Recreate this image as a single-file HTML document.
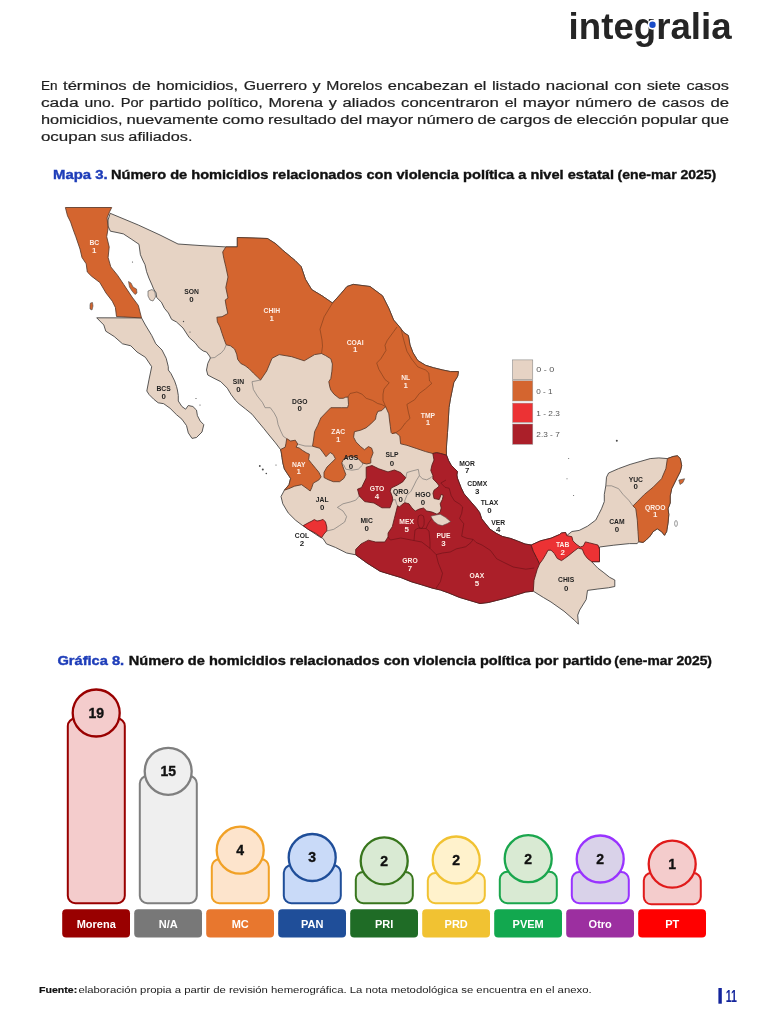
<!DOCTYPE html>
<html lang="es"><head><meta charset="utf-8"><title>Integralia</title>
<style>
html,body{margin:0;padding:0;background:#fff;}
body{width:768px;height:1024px;position:relative;overflow:hidden;}
svg{position:absolute;left:0;top:0;display:block;will-change:transform;}
text{font-family:"Liberation Sans",Arial,sans-serif;}
.p{font-size:13.7px;fill:#1f1f1f;stroke:#1f1f1f;stroke-width:0.22px;}
.tb{font-size:13.5px;font-weight:bold;fill:#1e3db9;stroke:#1e3db9;stroke-width:0.4px;}
.tk{font-size:13.5px;font-weight:bold;fill:#111;stroke:#111;stroke-width:0.4px;}
.tk2{font-size:12.2px;font-weight:bold;fill:#111;stroke:#111;stroke-width:0.35px;}
.fb{font-size:9.6px;font-weight:bold;fill:#111;stroke:#111;stroke-width:0.2px;}
.fr{font-size:9.6px;fill:#222;}
.pg{font-size:16.4px;font-weight:bold;fill:#14259c;}
.logo{font-size:37.5px;font-weight:bold;fill:#252525;}
.lg{font-size:7.4px;fill:#555;}
.ml{font-size:7.9px;font-weight:bold;fill:#1e1e1e;text-anchor:middle;}
.ml.w{fill:#fdeee6;}
.num{font-size:14px;font-weight:bold;fill:#111;stroke:#111;stroke-width:0.35px;text-anchor:middle;}
.lbl{font-size:11px;font-weight:bold;fill:#fff;text-anchor:middle;}
</style></head><body>
<svg width="768" height="1024" viewBox="0 0 768 1024">
<text x="40.90" y="90.2" textLength="16.55" lengthAdjust="spacingAndGlyphs" class="p">En</text>
<text x="63.02" y="90.2" textLength="63.64" lengthAdjust="spacingAndGlyphs" class="p">términos</text>
<text x="132.24" y="90.2" textLength="18.60" lengthAdjust="spacingAndGlyphs" class="p">de</text>
<text x="156.41" y="90.2" textLength="81.67" lengthAdjust="spacingAndGlyphs" class="p">homicidios,</text>
<text x="243.66" y="90.2" textLength="63.38" lengthAdjust="spacingAndGlyphs" class="p">Guerrero</text>
<text x="312.61" y="90.2" textLength="8.08" lengthAdjust="spacingAndGlyphs" class="p">y</text>
<text x="326.27" y="90.2" textLength="55.99" lengthAdjust="spacingAndGlyphs" class="p">Morelos</text>
<text x="387.84" y="90.2" textLength="80.50" lengthAdjust="spacingAndGlyphs" class="p">encabezan</text>
<text x="473.92" y="90.2" textLength="12.43" lengthAdjust="spacingAndGlyphs" class="p">el</text>
<text x="491.92" y="90.2" textLength="48.36" lengthAdjust="spacingAndGlyphs" class="p">listado</text>
<text x="545.86" y="90.2" textLength="62.73" lengthAdjust="spacingAndGlyphs" class="p">nacional</text>
<text x="614.16" y="90.2" textLength="27.08" lengthAdjust="spacingAndGlyphs" class="p">con</text>
<text x="646.81" y="90.2" textLength="34.04" lengthAdjust="spacingAndGlyphs" class="p">siete</text>
<text x="686.42" y="90.2" textLength="42.58" lengthAdjust="spacingAndGlyphs" class="p">casos</text>
<text x="40.90" y="107.1" textLength="37.81" lengthAdjust="spacingAndGlyphs" class="p">cada</text>
<text x="84.41" y="107.1" textLength="30.57" lengthAdjust="spacingAndGlyphs" class="p">uno.</text>
<text x="120.67" y="107.1" textLength="22.85" lengthAdjust="spacingAndGlyphs" class="p">Por</text>
<text x="149.20" y="107.1" textLength="52.39" lengthAdjust="spacingAndGlyphs" class="p">partido</text>
<text x="207.29" y="107.1" textLength="55.44" lengthAdjust="spacingAndGlyphs" class="p">político,</text>
<text x="268.42" y="107.1" textLength="54.67" lengthAdjust="spacingAndGlyphs" class="p">Morena</text>
<text x="328.79" y="107.1" textLength="8.08" lengthAdjust="spacingAndGlyphs" class="p">y</text>
<text x="342.56" y="107.1" textLength="52.84" lengthAdjust="spacingAndGlyphs" class="p">aliados</text>
<text x="401.09" y="107.1" textLength="97.87" lengthAdjust="spacingAndGlyphs" class="p">concentraron</text>
<text x="504.65" y="107.1" textLength="12.43" lengthAdjust="spacingAndGlyphs" class="p">el</text>
<text x="522.77" y="107.1" textLength="47.10" lengthAdjust="spacingAndGlyphs" class="p">mayor</text>
<text x="575.56" y="107.1" textLength="56.58" lengthAdjust="spacingAndGlyphs" class="p">número</text>
<text x="637.84" y="107.1" textLength="18.60" lengthAdjust="spacingAndGlyphs" class="p">de</text>
<text x="662.13" y="107.1" textLength="42.58" lengthAdjust="spacingAndGlyphs" class="p">casos</text>
<text x="710.40" y="107.1" textLength="18.60" lengthAdjust="spacingAndGlyphs" class="p">de</text>
<text x="40.90" y="124.0" textLength="81.67" lengthAdjust="spacingAndGlyphs" class="p">homicidios,</text>
<text x="126.43" y="124.0" textLength="92.00" lengthAdjust="spacingAndGlyphs" class="p">nuevamente</text>
<text x="222.30" y="124.0" textLength="41.86" lengthAdjust="spacingAndGlyphs" class="p">como</text>
<text x="268.02" y="124.0" textLength="68.26" lengthAdjust="spacingAndGlyphs" class="p">resultado</text>
<text x="340.15" y="124.0" textLength="22.13" lengthAdjust="spacingAndGlyphs" class="p">del</text>
<text x="366.15" y="124.0" textLength="47.10" lengthAdjust="spacingAndGlyphs" class="p">mayor</text>
<text x="417.11" y="124.0" textLength="56.58" lengthAdjust="spacingAndGlyphs" class="p">número</text>
<text x="477.56" y="124.0" textLength="18.60" lengthAdjust="spacingAndGlyphs" class="p">de</text>
<text x="500.02" y="124.0" textLength="50.14" lengthAdjust="spacingAndGlyphs" class="p">cargos</text>
<text x="554.03" y="124.0" textLength="18.60" lengthAdjust="spacingAndGlyphs" class="p">de</text>
<text x="576.49" y="124.0" textLength="60.64" lengthAdjust="spacingAndGlyphs" class="p">elección</text>
<text x="641.00" y="124.0" textLength="56.35" lengthAdjust="spacingAndGlyphs" class="p">popular</text>
<text x="701.22" y="124.0" textLength="27.78" lengthAdjust="spacingAndGlyphs" class="p">que</text>
<text x="40.90" y="140.9" textLength="55.66" lengthAdjust="spacingAndGlyphs" class="p">ocupan</text>
<text x="100.40" y="140.9" textLength="24.17" lengthAdjust="spacingAndGlyphs" class="p">sus</text>
<text x="128.39" y="140.9" textLength="64.10" lengthAdjust="spacingAndGlyphs" class="p">afiliados.</text>
<text x="53.00" y="179.2" textLength="54.73" lengthAdjust="spacingAndGlyphs" class="tb">Mapa 3.</text>
<text x="110.93" y="179.2" textLength="503.06" lengthAdjust="spacingAndGlyphs" class="tk">Número de homicidios relacionados con violencia política a nivel estatal</text>
<text x="617.49" y="179.2" textLength="98.80" lengthAdjust="spacingAndGlyphs" class="tk2">(ene-mar 2025)</text>
<text x="57.40" y="665.4" textLength="66.82" lengthAdjust="spacingAndGlyphs" class="tb">Gráfica 8.</text>
<text x="128.82" y="665.4" textLength="482.96" lengthAdjust="spacingAndGlyphs" class="tk">Número de homicidios relacionados con violencia política por partido</text>
<text x="614.38" y="665.4" textLength="97.60" lengthAdjust="spacingAndGlyphs" class="tk2">(ene-mar 2025)</text>
<text x="39.0" y="992.6" textLength="38.17" lengthAdjust="spacingAndGlyphs" class="fb">Fuente:</text>
<text x="78.4" y="992.6" textLength="513.20" lengthAdjust="spacingAndGlyphs" class="fr">elaboración propia a partir de revisión hemerográfica. La nota metodológica se encuentra en el anexo.</text>
<rect x="718.4" y="988" width="3.4" height="15.7" fill="#14259c"/>
<text x="725.8" y="1001.9" textLength="11.2" lengthAdjust="spacingAndGlyphs" class="pg">11</text>
<text x="568.6" y="38.6" textLength="163" lengthAdjust="spacingAndGlyphs" class="logo">integralia</text>
<circle cx="652.6" cy="24.8" r="5.0" fill="#fff"/>
<circle cx="652.5" cy="24.8" r="3.2" fill="#1a4cc8"/>
<g class="map" stroke-linejoin="round">
<polygon points="110.2,213.3 138.3,225.0 160.0,235.0 178.0,244.0 200.0,245.5 225.8,246.9 237.3,246.9 237.3,237.5 267.5,238.5 275.8,243.8 282.5,250.0 295.0,260.4 301.2,266.7 305.4,279.2 311.7,289.6 322.0,295.8 332.5,303.0 340.8,293.8 347.0,286.5 353.3,284.4 370.0,286.5 382.5,295.8 388.8,308.3 393.6,320.0 399.0,326.2 403.8,332.5 408.4,335.6 410.0,345.0 413.0,352.8 417.8,360.6 425.6,365.3 433.4,367.7 442.8,370.0 450.6,371.6 458.4,371.6 457.7,376.2 453.8,382.5 452.2,390.3 450.6,398.0 449.0,407.5 448.3,420.0 447.5,432.5 446.7,443.0 446.3,450.0 446.5,455.2 448.5,460.4 451.1,465.1 454.8,468.8 457.4,471.4 456.9,475.0 457.4,478.1 459.0,482.3 461.0,487.5 464.0,493.8 470.2,501.0 476.5,508.3 479.6,512.5 481.7,518.8 485.8,524.0 490.0,529.2 496.2,533.3 502.5,536.5 510.8,538.5 517.5,541.0 525.0,544.0 531.2,545.0 540.6,540.8 551.0,538.2 559.4,534.6 561.5,533.0 565.6,532.5 566.7,535.6 571.9,531.5 579.2,530.4 587.5,526.2 595.8,520.0 598.6,514.5 601.5,508.8 604.3,501.6 604.3,494.4 605.8,485.8 606.5,477.2 608.6,473.0 618.6,468.6 630.1,464.4 640.1,461.5 650.2,458.6 658.8,457.9 667.4,458.6 673.1,456.5 677.4,455.8 680.3,458.6 681.7,465.8 680.3,471.5 677.4,477.2 674.5,483.0 671.7,488.7 670.2,495.9 670.2,503.0 668.0,508.8 668.8,514.5 668.0,523.1 666.6,531.7 664.5,535.3 661.6,531.7 657.3,528.8 653.0,531.7 650.2,536.0 645.9,540.3 643.0,542.4 638.7,541.7 637.2,543.6 629.4,543.6 613.8,545.2 599.5,547.0 599.5,561.7 591.7,561.7 597.9,568.2 603.1,572.1 609.6,577.3 614.8,580.0 614.8,586.5 608.3,587.8 597.9,589.0 587.5,590.4 586.2,599.5 579.7,610.0 577.7,615.1 578.4,624.2 574.5,620.3 564.0,611.2 551.0,602.0 543.4,597.5 533.3,591.2 525.8,592.0 515.4,595.2 505.0,598.3 496.7,600.4 488.3,602.5 480.0,603.5 469.6,600.4 459.2,597.3 448.8,593.0 440.4,590.0 432.0,588.0 421.7,584.8 411.2,581.7 400.8,577.5 390.4,574.4 380.0,571.2 367.0,563.0 355.7,554.8 346.6,553.0 335.6,547.5 326.5,543.9 322.9,538.4 319.2,536.6 313.8,533.0 308.3,529.3 302.8,525.7 295.5,520.2 288.2,512.9 282.8,503.8 281.0,496.5 284.4,490.2 289.0,484.7 290.6,478.4 287.5,473.8 284.4,469.0 282.8,462.8 282.0,457.3 281.2,451.9 280.5,449.5 275.5,442.9 269.0,435.0 263.8,428.5 257.3,420.7 252.0,414.2 245.6,409.0 239.0,403.8 235.2,400.0 231.2,394.7 227.3,388.2 220.8,381.7 213.0,377.8 207.8,375.0 206.5,370.0 207.8,363.4 210.4,358.0 209.6,356.2 206.5,352.0 203.3,351.0 199.2,348.0 195.0,342.7 189.2,337.5 183.0,328.0 176.5,322.0 171.6,319.4 168.4,313.0 164.5,308.4 161.4,302.2 156.7,297.5 156.0,292.8 153.6,289.0 152.0,285.0 148.9,278.0 146.6,271.7 145.0,264.7 142.7,260.0 140.4,254.7 139.0,244.3 131.2,239.0 123.4,233.9 117.0,232.5 110.4,231.2 108.0,226.0 108.0,220.0" fill="#e6d3c4" stroke="#3c3c3c" stroke-width="0.85"/>
<polygon points="96.7,317.8 141.5,317.9 145.4,325.0 151.7,335.4 155.8,343.8 162.0,350.0 166.2,358.3 168.3,366.7 168.3,370.0 171.0,373.6 174.6,380.9 176.5,386.4 177.4,390.0 178.3,395.5 178.3,401.0 181.9,406.5 185.6,409.2 188.3,405.5 192.9,406.5 196.5,410.1 197.4,415.6 200.2,421.0 203.8,424.7 202.0,432.0 196.5,437.5 192.0,438.4 188.3,432.9 186.5,425.6 181.9,419.2 176.5,414.7 170.1,408.3 163.7,403.7 158.2,402.8 153.7,399.2 149.1,394.6 146.8,391.0 149.1,379.1 151.0,370.0 151.7,366.7 145.4,357.3 137.0,352.0 130.8,345.8 122.5,343.8 114.2,336.5 105.8,331.2 103.8,325.0" fill="#e6d3c4" stroke="#3c3c3c" stroke-width="0.85"/>
<polygon points="65.4,207.5 111.7,207.5 109.6,211.7 107.1,217.9 108.1,228.3 106.7,236.7 109.2,247.0 108.1,257.5 110.8,266.9 117.5,275.2 123.8,284.6 132.1,297.1 138.3,305.4 141.5,317.9 116.5,316.5 115.4,307.5 112.3,301.2 106.0,293.0 99.8,282.5 91.5,276.2 87.3,272.0 86.2,263.8 82.0,257.5 80.0,249.0 75.8,236.7 72.7,228.3 70.6,222.0 67.5,215.8" fill="#d4652f" stroke="#5a3a2a" stroke-width="0.85"/>
<polyline points="210.4,358.0 214.8,357.5 218.0,355.0 221.0,353.2 224.2,349.5 226.2,344.8" fill="none" stroke="#6a6a6a" stroke-width="0.6"/>
<polyline points="260.6,380.0 252.0,381.7 253.4,389.5 257.3,396.0 262.5,402.5 265.1,407.7 270.3,407.7 274.2,413.0 276.8,418.0 278.1,424.6 280.7,431.0 283.3,436.4 286.7,438.6" fill="none" stroke="#6a6a6a" stroke-width="0.6"/>
<polyline points="297.7,444.0 305.0,446.0 312.5,446.2" fill="none" stroke="#6a6a6a" stroke-width="0.6"/>
<polyline points="405.8,477.7 406.9,472.5 412.0,471.0 418.3,469.4" fill="none" stroke="#6a6a6a" stroke-width="0.6"/>
<polyline points="418.3,469.4 419.4,475.6 422.5,478.8 426.7,479.8 430.8,477.7 432.9,475.6" fill="none" stroke="#6a6a6a" stroke-width="0.6"/>
<polyline points="419.4,475.6 416.2,480.8 414.2,485.0 411.0,491.2 406.9,495.4 404.8,500.6 404.8,502.7" fill="none" stroke="#6a6a6a" stroke-width="0.6"/>
<polyline points="392.8,500.0 395.4,499.6 396.5,503.8 397.5,505.8" fill="none" stroke="#6a6a6a" stroke-width="0.6"/>
<polyline points="326.5,531.1 333.8,529.3 339.3,525.7 344.7,522.0 346.6,516.6 343.0,511.0 337.4,507.4 343.0,503.8 350.2,502.0 355.7,500.2 359.3,496.0" fill="none" stroke="#6a6a6a" stroke-width="0.6"/>
<polyline points="343.8,465.0 345.8,469.2 352.0,470.2 358.3,469.2 362.5,465.0 362.5,463.0" fill="none" stroke="#6a6a6a" stroke-width="0.6"/>
<polyline points="343.8,465.0 341.7,463.0" fill="none" stroke="#6a6a6a" stroke-width="0.6"/>
<polyline points="605.8,485.8 611.5,485.8 618.6,488.7 623.0,494.4 628.7,500.2 633.0,505.9" fill="none" stroke="#6a6a6a" stroke-width="0.6"/>
<polygon points="225.8,246.9 237.3,246.9 237.3,237.5 267.5,238.5 275.8,243.8 282.5,250.0 295.0,260.4 301.2,266.7 305.4,279.2 311.7,289.6 322.0,295.8 332.5,303.0 340.8,293.8 347.0,286.5 353.3,284.4 370.0,286.5 382.5,295.8 388.8,308.3 393.6,320.0 399.0,326.2 403.8,332.5 408.4,335.6 410.0,345.0 413.0,352.8 417.8,360.6 425.6,365.3 433.4,367.7 442.8,370.0 450.6,371.6 458.4,371.6 457.7,376.2 453.8,382.5 452.2,390.3 450.6,398.0 449.0,407.5 448.3,420.0 447.5,432.5 446.7,443.0 446.3,450.0 446.5,455.2 440.6,453.5 436.7,452.7 432.8,453.5 425.6,451.6 416.2,448.4 406.9,445.3 400.6,443.8 399.8,436.0 396.0,432.8 392.0,433.6 391.1,432.5 390.3,426.2 389.5,420.0 388.8,413.8 385.6,406.7 381.7,410.6 377.8,411.4 376.2,415.3 375.5,419.2 370.8,423.9 366.1,427.8 360.6,430.2 354.4,431.7 353.6,437.2 356.0,441.9 360.6,446.6 364.5,449.7 368.4,446.6 371.6,448.1 373.1,452.8 370.8,458.8 370.8,463.0 366.7,464.0 362.5,463.0 358.3,458.8 354.2,456.7 348.0,456.7 343.8,458.8 341.7,463.0 343.8,469.2 345.8,474.4 343.8,478.5 339.6,481.7 333.3,481.7 328.0,479.6 324.0,477.5 324.0,472.3 327.0,467.0 331.2,463.0 335.4,458.8 333.3,454.6 330.2,452.5 326.0,456.7 323.0,452.5 319.8,448.3 312.5,446.2 313.5,440.0 314.6,431.7 317.7,425.4 320.8,418.0 325.6,413.0 330.8,407.7 335.0,407.7 341.2,407.7 347.5,407.7 348.5,404.6 348.0,397.0 345.4,397.3 343.3,398.3 339.2,398.3 334.0,394.2 330.8,390.0 329.8,386.9 328.8,381.7 330.8,378.5 331.9,371.2 332.4,364.0 330.8,358.8 325.6,355.6 321.5,353.5 314.6,354.6 304.2,360.8 291.7,356.7 279.2,354.6 272.0,358.3 266.7,371.0 260.6,380.0 257.5,377.0 253.3,373.0 249.2,368.8 245.0,365.6 240.8,363.5 237.7,359.4 236.7,354.2 234.6,349.0 230.4,345.8 226.2,344.8 224.2,339.6 222.0,333.3 220.0,327.0 217.4,321.9 216.9,317.2 222.0,316.7 227.8,313.5 226.2,306.2 225.2,300.0 228.0,298.0 225.8,287.5 228.0,277.0 225.8,266.7 223.8,258.3 222.7,252.0" fill="#d4652f" stroke="#5a3a2a" stroke-width="0.85"/>
<polyline points="332.5,303.0 324.2,316.7 320.0,329.2 322.0,340.0 322.5,346.2 321.5,353.5" fill="none" stroke="#7a3a1a" stroke-width="0.6"/>
<polyline points="397.0,327.0 393.6,331.7 387.3,340.3 385.0,345.2 386.0,350.4 380.8,358.8 376.7,363.0 378.8,369.2 381.9,374.4 385.0,379.6 389.2,382.7 384.0,389.0 383.0,394.2 383.0,400.4 384.5,404.0 385.6,406.7" fill="none" stroke="#7a3a1a" stroke-width="0.6"/>
<polyline points="401.0,329.0 403.8,340.3 406.9,351.2 411.6,359.0 417.8,366.9 425.6,370.0 428.8,373.0 429.5,381.0 431.9,383.3 425.6,388.8 419.4,393.4 414.7,399.7 406.9,404.4 408.4,412.2 410.0,418.4 405.3,423.0 400.6,429.4 396.0,432.5 392.0,433.6" fill="none" stroke="#7a3a1a" stroke-width="0.6"/>
<polyline points="348.0,397.0 350.0,393.5 356.9,392.0 362.0,394.2 366.2,398.3 372.5,400.4 377.7,403.5 381.9,404.6 385.6,406.7" fill="none" stroke="#7a3a1a" stroke-width="0.6"/>
<polygon points="286.7,438.6 290.6,441.0 295.3,440.2 297.7,444.0 296.1,447.2 299.2,448.0 302.3,450.3 306.2,452.7 309.4,454.2 308.6,459.7 311.7,463.6 315.6,468.3 318.8,472.2 321.1,476.9 318.8,480.0 313.3,483.1 311.7,487.8 310.2,491.0 307.0,488.6 301.6,484.7 294.5,486.2 289.0,488.6 284.4,490.2 289.0,484.7 290.6,478.4 287.5,473.8 284.4,469.0 282.8,462.8 282.0,457.3 281.2,451.9 280.5,449.5 285.2,447.2 286.0,443.3" fill="#d4652f" stroke="#5a3a2a" stroke-width="0.85"/>
<polygon points="667.4,458.6 673.1,456.5 677.4,455.8 680.3,458.6 681.7,465.8 680.3,471.5 677.4,477.2 674.5,483.0 671.7,488.7 670.2,495.9 670.2,503.0 668.0,508.8 668.8,514.5 668.0,523.1 666.6,531.7 664.5,535.3 661.6,531.7 657.3,528.8 653.0,531.7 650.2,536.0 645.9,540.3 643.0,542.4 638.7,541.7 638.0,531.7 637.3,520.2 635.8,508.8 633.0,505.9 637.3,501.6 644.4,494.4 653.0,487.3 661.6,478.7 665.9,468.6" fill="#d4652f" stroke="#5a3a2a" stroke-width="0.85"/>
<polygon points="446.5,455.2 448.5,460.4 451.1,465.1 454.8,468.8 457.4,471.4 456.9,475.0 457.4,478.1 459.0,482.3 461.0,487.5 464.0,493.8 470.2,501.0 476.5,508.3 479.6,512.5 481.7,518.8 485.8,524.0 490.0,529.2 496.2,533.3 502.5,536.5 510.8,538.5 517.5,541.0 525.0,544.0 531.2,545.0 533.3,551.2 536.5,557.5 539.6,563.8 537.2,569.4 534.0,580.3 533.3,591.2 525.8,592.0 515.4,595.2 505.0,598.3 496.7,600.4 488.3,602.5 480.0,603.5 469.6,600.4 459.2,597.3 448.8,593.0 440.4,590.0 432.0,588.0 421.7,584.8 411.2,581.7 400.8,577.5 390.4,574.4 380.0,571.2 367.0,563.0 355.7,554.8 355.7,549.4 361.1,543.9 368.4,540.2 375.7,542.0 384.8,542.0 388.0,537.0 388.1,533.0 392.3,526.7 394.4,518.3 396.5,510.0 397.5,505.8 399.6,506.9 401.7,504.8 404.8,502.7 409.0,503.8 412.0,508.0 415.2,511.0 419.4,509.0 423.5,508.0 426.7,511.0 431.9,512.0 437.0,514.2 440.2,512.0 441.2,508.0 440.2,503.8 442.3,499.6 443.3,495.4 441.2,494.4 439.2,499.6 434.0,498.5 433.0,493.3 434.0,490.2 437.0,488.0 439.2,486.0 437.0,483.0 432.9,478.8 432.9,475.6 430.8,470.4 431.9,465.2 434.0,460.0 432.8,453.5 436.7,452.7 440.6,453.5" fill="#ab1f29" stroke="#5a1a1a" stroke-width="0.85"/>
<polyline points="414.0,540.5 414.4,536.0 415.0,530.0 418.0,528.2 422.0,528.4 426.0,528.5 429.0,531.0 429.5,536.0 430.0,542.0 430.0,548.3" fill="none" stroke="#6a1015" stroke-width="0.6"/>
<polyline points="418.5,516.0 421.0,514.8 423.5,516.0 424.2,520.0 424.0,525.0 422.0,528.4 419.5,528.0 418.0,524.0 417.8,520.0 418.5,516.0" fill="none" stroke="#6a1015" stroke-width="0.6"/>
<polyline points="431.9,518.3 428.5,523.0 426.0,528.5" fill="none" stroke="#6a1015" stroke-width="0.6"/>
<polyline points="388.0,537.0 390.4,540.0 400.8,538.0 411.2,540.0 421.7,542.0 430.0,548.3 436.2,554.6" fill="none" stroke="#6a1015" stroke-width="0.6"/>
<polyline points="436.2,554.6 438.3,563.0 442.5,573.3 440.4,581.7 436.2,588.0" fill="none" stroke="#6a1015" stroke-width="0.6"/>
<polyline points="436.2,554.6 442.5,553.0 450.2,552.0 456.5,548.8 461.7,547.7 465.8,546.7 471.0,542.5 473.1,539.4" fill="none" stroke="#6a1015" stroke-width="0.6"/>
<polyline points="473.1,539.4 476.2,542.5 482.0,545.0 490.4,550.4 496.7,558.8 505.0,563.0 513.3,567.0 525.8,569.2 534.2,568.0" fill="none" stroke="#6a1015" stroke-width="0.6"/>
<polyline points="440.8,483.0 445.0,487.3 449.2,488.3 451.2,495.6 454.4,500.8 459.6,504.0 462.7,507.0 461.7,513.3 459.6,518.5 463.8,523.8 462.7,530.0 461.7,536.2 466.9,538.3 473.1,539.4" fill="none" stroke="#6a1015" stroke-width="0.6"/>
<polyline points="446.0,480.0 440.8,483.0" fill="none" stroke="#6a1015" stroke-width="0.6"/>
<polygon points="430.8,516.2 435.0,515.2 440.2,514.2 445.4,517.3 450.6,521.5 447.5,523.5 442.3,525.6 438.1,524.6 434.0,521.5 431.9,518.3" fill="#e6d3c4" stroke="#5a4a4a" stroke-width="0.6"/>
<polygon points="366.2,467.2 372.0,465.5 378.8,468.8 388.0,471.9 394.4,470.0 400.6,472.5 405.8,477.7 402.7,481.9 397.5,485.0 391.2,488.0 390.2,491.2 392.3,496.5 392.8,500.0 390.0,507.8 381.9,507.8 374.0,503.0 364.7,501.6 359.3,496.0 357.5,489.2 361.6,487.5 366.2,478.0" fill="#ab1f29" stroke="#5a1a1a" stroke-width="0.85"/>
<polygon points="303.3,525.6 308.0,523.0 312.0,521.0 314.3,519.6 317.0,521.0 320.0,520.5 323.1,519.4 325.5,522.0 326.8,527.0 326.8,530.8 324.0,534.0 321.6,537.6 315.8,533.4 308.0,529.3" fill="#ec3234" stroke="#5a1a1a" stroke-width="0.85"/>
<polygon points="531.2,545.0 540.6,540.8 551.0,538.2 559.4,534.6 561.5,533.0 565.6,532.5 566.7,535.6 571.9,536.7 572.9,540.8 576.0,544.0 580.2,547.0 583.3,546.0 585.4,541.9 589.6,542.9 597.9,545.0 599.5,549.2 599.5,561.7 591.7,561.7 587.5,558.5 584.4,554.4 582.3,549.2 578.1,548.1 574.0,551.2 568.8,555.4 564.6,558.5 561.5,560.6 557.3,558.5 554.2,553.3 551.0,550.2 548.0,550.2 545.8,554.4 542.7,559.6 539.6,563.8 536.5,557.5 533.3,551.2" fill="#ec3234" stroke="#5a1a1a" stroke-width="0.85"/>
<polygon points="128.5,281.5 131.0,283.0 133.0,287.0 136.5,289.0 137.0,293.0 135.0,294.5 132.0,291.0 129.5,287.0" fill="#d4652f" stroke="#4a4a4a" stroke-width="0.6"/>
<polygon points="148.0,291.0 152.0,289.5 155.0,292.0 155.5,297.0 153.0,301.0 150.0,300.0 148.0,296.0" fill="#e6d3c4" stroke="#4a4a4a" stroke-width="0.6"/>
<polygon points="90.5,303.0 92.5,302.5 93.0,306.0 92.0,310.0 90.0,309.0 90.0,305.0" fill="#d4652f" stroke="#4a4a4a" stroke-width="0.6"/>
<polygon points="678.8,480.1 684.6,478.7 683.0,482.5 680.0,484.5" fill="#d4652f" stroke="#4a4a4a" stroke-width="0.6"/>
<circle cx="616.8" cy="440.8" r="1.0" fill="#4a4a4a"/>
<circle cx="259.8" cy="466" r="0.9" fill="#4a4a4a"/>
<circle cx="262.8" cy="469.5" r="1.0" fill="#4a4a4a"/>
<circle cx="266.3" cy="473.5" r="0.8" fill="#4a4a4a"/>
<circle cx="276" cy="465" r="0.6" fill="#4a4a4a"/>
<circle cx="568.7" cy="458.4" r="0.5" fill="#4a4a4a"/>
<circle cx="567" cy="478.7" r="0.5" fill="#4a4a4a"/>
<circle cx="573.6" cy="495.6" r="0.5" fill="#4a4a4a"/>
<circle cx="183.5" cy="321.5" r="0.7" fill="#4a4a4a"/>
<circle cx="190" cy="332" r="0.6" fill="#4a4a4a"/>
<circle cx="196" cy="398.5" r="0.6" fill="#4a4a4a"/>
<circle cx="200" cy="405" r="0.6" fill="#4a4a4a"/>
<circle cx="132.5" cy="262" r="0.6" fill="#4a4a4a"/>
<ellipse cx="676" cy="523.5" rx="1.4" ry="3" fill="none" stroke="#555" stroke-width="0.6"/>
</g>
<rect x="512.6" y="359.9" width="20.2" height="19.8" fill="#e6d3c4" stroke="#777" stroke-width="0.5"/>
<text x="536.3" y="372.4" textLength="18.0" lengthAdjust="spacingAndGlyphs" class="lg">0 - 0</text>
<rect x="512.6" y="380.7" width="20.2" height="20.3" fill="#d4652f" stroke="#999" stroke-width="0.5"/>
<text x="536.3" y="394.3" textLength="16.3" lengthAdjust="spacingAndGlyphs" class="lg">0 - 1</text>
<rect x="512.6" y="403.1" width="20.2" height="19.3" fill="#ec3234" stroke="#999" stroke-width="0.5"/>
<text x="536.3" y="415.6" textLength="23.5" lengthAdjust="spacingAndGlyphs" class="lg">1 - 2.3</text>
<rect x="512.6" y="424.0" width="20.2" height="20.3" fill="#ab1f29" stroke="#999" stroke-width="0.5"/>
<text x="536.3" y="436.5" textLength="23.5" lengthAdjust="spacingAndGlyphs" class="lg">2.3 - 7</text>
<text x="94.3" y="245" textLength="9.76" lengthAdjust="spacingAndGlyphs" class="ml w">BC</text>
<text x="94.3" y="253" class="ml w">1</text>
<text x="191.5" y="294" textLength="14.64" lengthAdjust="spacingAndGlyphs" class="ml">SON</text>
<text x="191.5" y="302" class="ml">0</text>
<text x="271.8" y="313" textLength="16.51" lengthAdjust="spacingAndGlyphs" class="ml w">CHIH</text>
<text x="271.8" y="320.8" class="ml w">1</text>
<text x="355.1" y="344.8" textLength="16.89" lengthAdjust="spacingAndGlyphs" class="ml w">COAI</text>
<text x="355.1" y="352" class="ml w">1</text>
<text x="405.7" y="380" textLength="9.00" lengthAdjust="spacingAndGlyphs" class="ml w">NL</text>
<text x="405.7" y="388" class="ml w">1</text>
<text x="428" y="418" textLength="14.26" lengthAdjust="spacingAndGlyphs" class="ml w">TMP</text>
<text x="428" y="425" class="ml w">1</text>
<text x="238.5" y="383.75" textLength="11.26" lengthAdjust="spacingAndGlyphs" class="ml">SIN</text>
<text x="238.5" y="391.7" class="ml">0</text>
<text x="299.8" y="403.5" textLength="15.39" lengthAdjust="spacingAndGlyphs" class="ml">DGO</text>
<text x="299.8" y="411" class="ml">0</text>
<text x="338.3" y="434" textLength="13.88" lengthAdjust="spacingAndGlyphs" class="ml w">ZAC</text>
<text x="338.3" y="442" class="ml w">1</text>
<text x="298.7" y="467" textLength="13.64" lengthAdjust="spacingAndGlyphs" class="ml w">NAY</text>
<text x="298.7" y="474.4" class="ml w">1</text>
<text x="351" y="460.4" textLength="14.64" lengthAdjust="spacingAndGlyphs" class="ml">AGS</text>
<text x="351" y="468.75" class="ml">0</text>
<text x="163.6" y="390.6" textLength="14.26" lengthAdjust="spacingAndGlyphs" class="ml">BCS</text>
<text x="163.6" y="399" class="ml">0</text>
<text x="322.2" y="501.6" textLength="12.76" lengthAdjust="spacingAndGlyphs" class="ml">JAL</text>
<text x="322.2" y="509.6" class="ml">0</text>
<text x="366.6" y="523" textLength="12.38" lengthAdjust="spacingAndGlyphs" class="ml">MIC</text>
<text x="366.6" y="530.6" class="ml">0</text>
<text x="301.9" y="538" textLength="14.26" lengthAdjust="spacingAndGlyphs" class="ml">COL</text>
<text x="301.9" y="545.7" class="ml">2</text>
<text x="377" y="491" textLength="14.51" lengthAdjust="spacingAndGlyphs" class="ml w">GTO</text>
<text x="377" y="499.2" class="ml w">4</text>
<text x="400.7" y="493.8" textLength="15.39" lengthAdjust="spacingAndGlyphs" class="ml">QRO</text>
<text x="400.7" y="502" class="ml">0</text>
<text x="406.6" y="523.5" textLength="14.64" lengthAdjust="spacingAndGlyphs" class="ml w">MEX</text>
<text x="406.6" y="531.9" class="ml w">5</text>
<text x="423" y="497" textLength="15.39" lengthAdjust="spacingAndGlyphs" class="ml">HGO</text>
<text x="423" y="504.8" class="ml">0</text>
<text x="443.5" y="538" textLength="13.89" lengthAdjust="spacingAndGlyphs" class="ml w">PUE</text>
<text x="443.5" y="546.25" class="ml w">3</text>
<text x="410" y="563" textLength="15.39" lengthAdjust="spacingAndGlyphs" class="ml w">GRO</text>
<text x="410" y="571.25" class="ml w">7</text>
<text x="476.9" y="577.5" textLength="14.64" lengthAdjust="spacingAndGlyphs" class="ml w">OAX</text>
<text x="476.9" y="585.8" class="ml w">5</text>
<text x="392" y="457" textLength="13.14" lengthAdjust="spacingAndGlyphs" class="ml">SLP</text>
<text x="392" y="465.6" class="ml">0</text>
<text x="467.1" y="465.6" textLength="15.76" lengthAdjust="spacingAndGlyphs" class="ml">MOR</text>
<text x="467.1" y="473.4" class="ml">7</text>
<text x="477.2" y="486" textLength="19.89" lengthAdjust="spacingAndGlyphs" class="ml">CDMX</text>
<text x="477.2" y="494" class="ml">3</text>
<text x="489.5" y="504.7" textLength="17.64" lengthAdjust="spacingAndGlyphs" class="ml">TLAX</text>
<text x="489.5" y="512.5" class="ml">0</text>
<text x="498.3" y="524.5" textLength="13.89" lengthAdjust="spacingAndGlyphs" class="ml">VER</text>
<text x="498.3" y="532" class="ml">4</text>
<text x="562.6" y="546.7" textLength="13.38" lengthAdjust="spacingAndGlyphs" class="ml w">TAB</text>
<text x="562.6" y="555.3" class="ml w">2</text>
<text x="566.1" y="582" textLength="16.14" lengthAdjust="spacingAndGlyphs" class="ml">CHIS</text>
<text x="566.1" y="590.5" class="ml">0</text>
<text x="616.9" y="524" textLength="15.38" lengthAdjust="spacingAndGlyphs" class="ml">CAM</text>
<text x="616.9" y="532" class="ml">0</text>
<text x="635.8" y="481.5" textLength="14.26" lengthAdjust="spacingAndGlyphs" class="ml">YUC</text>
<text x="635.8" y="489.4" class="ml">0</text>
<text x="655.2" y="509.5" textLength="20.64" lengthAdjust="spacingAndGlyphs" class="ml w">QROO</text>
<text x="655.2" y="517.4" class="ml w">1</text>
<rect x="67.8" y="718.5" width="57" height="184.7" rx="7.5" fill="#f4cccc" stroke="#990000" stroke-width="2"/>
<circle cx="96.2" cy="713.0" r="23.5" fill="#f4cccc" stroke="#990000" stroke-width="2.3"/>
<text x="96.2" y="717.8" class="num">19</text>
<rect x="62.2" y="909.3" width="67.8" height="28.3" rx="4" fill="#990000"/>
<text x="96.2" y="928.0" class="lbl">Morena</text>
<rect x="139.8" y="776.0" width="57" height="127.2" rx="7.5" fill="#efefef" stroke="#7f7f7f" stroke-width="2"/>
<circle cx="168.2" cy="771.3" r="23.5" fill="#efefef" stroke="#7f7f7f" stroke-width="2.3"/>
<text x="168.2" y="776.1" class="num">15</text>
<rect x="134.2" y="909.3" width="67.8" height="28.3" rx="4" fill="#787878"/>
<text x="168.2" y="928.0" class="lbl">N/A</text>
<rect x="211.8" y="859.3" width="57" height="43.9" rx="7.5" fill="#fde4cc" stroke="#f1a126" stroke-width="2"/>
<circle cx="240.2" cy="850.2" r="23.5" fill="#fde4cc" stroke="#f1a126" stroke-width="2.3"/>
<text x="240.2" y="855.0" class="num">4</text>
<rect x="206.2" y="909.3" width="67.8" height="28.3" rx="4" fill="#e8772e"/>
<text x="240.2" y="928.0" class="lbl">MC</text>
<rect x="283.8" y="865.3" width="57" height="37.9" rx="7.5" fill="#c9daf8" stroke="#1f4e99" stroke-width="2"/>
<circle cx="312.2" cy="857.5" r="23.5" fill="#c9daf8" stroke="#1f4e99" stroke-width="2.3"/>
<text x="312.2" y="862.3" class="num">3</text>
<rect x="278.2" y="909.3" width="67.8" height="28.3" rx="4" fill="#1f4e99"/>
<text x="312.2" y="928.0" class="lbl">PAN</text>
<rect x="355.8" y="871.9" width="57" height="31.3" rx="7.5" fill="#d9ead3" stroke="#38761d" stroke-width="2"/>
<circle cx="384.2" cy="860.9" r="23.5" fill="#d9ead3" stroke="#38761d" stroke-width="2.3"/>
<text x="384.2" y="865.7" class="num">2</text>
<rect x="350.2" y="909.3" width="67.8" height="28.3" rx="4" fill="#1f6c26"/>
<text x="384.2" y="928.0" class="lbl">PRI</text>
<rect x="427.8" y="873.0" width="57" height="30.2" rx="7.5" fill="#fff2cc" stroke="#f1c232" stroke-width="2"/>
<circle cx="456.2" cy="860.0" r="23.5" fill="#fff2cc" stroke="#f1c232" stroke-width="2.3"/>
<text x="456.2" y="864.8" class="num">2</text>
<rect x="422.2" y="909.3" width="67.8" height="28.3" rx="4" fill="#f1c232"/>
<text x="456.2" y="928.0" class="lbl">PRD</text>
<rect x="499.8" y="871.8" width="57" height="31.4" rx="7.5" fill="#d9ead3" stroke="#1aa64d" stroke-width="2"/>
<circle cx="528.2" cy="858.7" r="23.5" fill="#d9ead3" stroke="#1aa64d" stroke-width="2.3"/>
<text x="528.2" y="863.5" class="num">2</text>
<rect x="494.2" y="909.3" width="67.8" height="28.3" rx="4" fill="#12a84f"/>
<text x="528.2" y="928.0" class="lbl">PVEM</text>
<rect x="571.8" y="872.0" width="57" height="31.2" rx="7.5" fill="#d9d2e9" stroke="#9933ff" stroke-width="2"/>
<circle cx="600.2" cy="859.0" r="23.5" fill="#d9d2e9" stroke="#9933ff" stroke-width="2.3"/>
<text x="600.2" y="863.8" class="num">2</text>
<rect x="566.2" y="909.3" width="67.8" height="28.3" rx="4" fill="#9c2fa0"/>
<text x="600.2" y="928.0" class="lbl">Otro</text>
<rect x="643.8" y="873.1" width="57" height="31.2" rx="7.5" fill="#f4cccc" stroke="#e01b1b" stroke-width="2"/>
<circle cx="672.2" cy="864.1" r="23.5" fill="#f4cccc" stroke="#e01b1b" stroke-width="2.3"/>
<text x="672.2" y="868.9" class="num">1</text>
<rect x="638.2" y="909.3" width="67.8" height="28.3" rx="4" fill="#ff0000"/>
<text x="672.2" y="928.0" class="lbl">PT</text>
</svg>
</body></html>
